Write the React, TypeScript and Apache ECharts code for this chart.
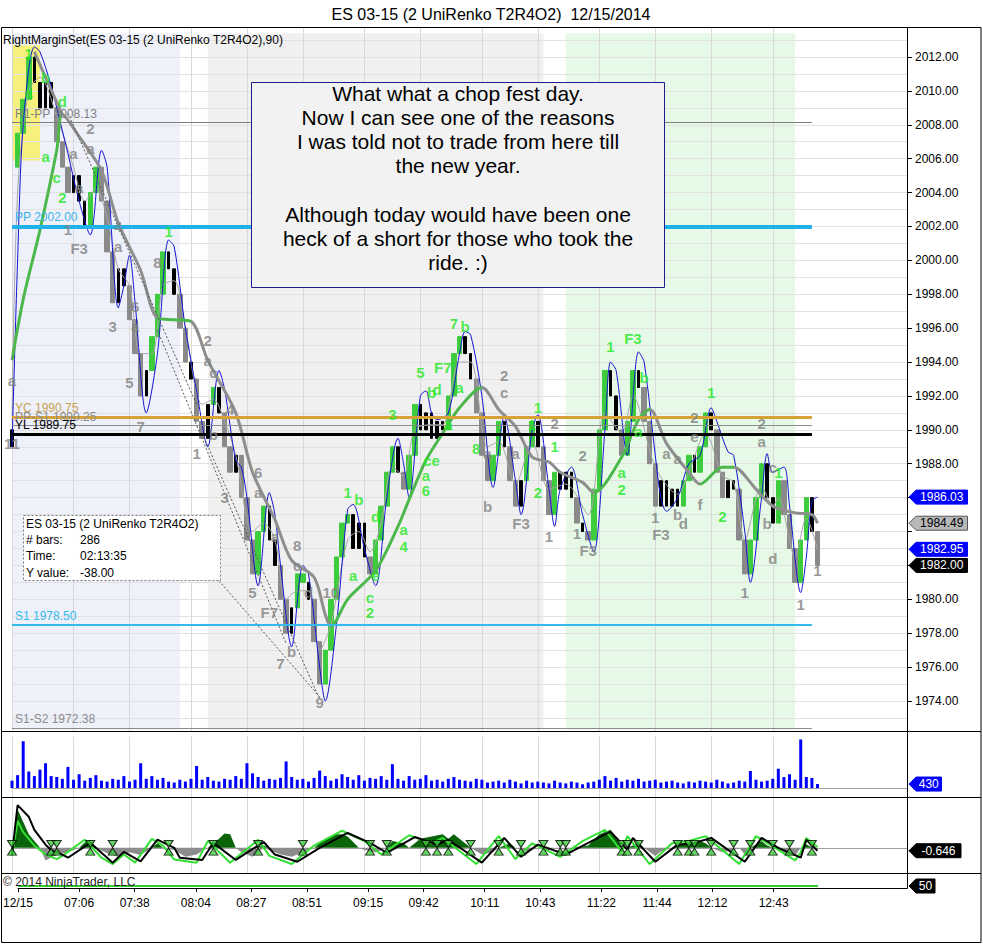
import React, { useEffect, useRef } from "react";
import * as echarts from "echarts";

const FONT = "'Liberation Sans', Arial, Helvetica, sans-serif";

// ---------- texts ----------
const TITLE = "ES 03-15 (2 UniRenko T2R4O2)  12/15/2014";
const INDICATOR_LABEL = "RightMarginSet(ES 03-15 (2 UniRenko T2R4O2),90)";
const NOTE_LINES = [
  "What what a chop fest day.",
  "Now I can see one of the reasons",
  "I was told not to trade from here till",
  "the new year.",
  "",
  "Although today would have been one",
  "heck of a short for those who took the",
  "ride. :)",
];
const INFO_KEYS = ["ES 03-15 (2 UniRenko T2R4O2)", "# bars:", "Time:", "Y value:"];
const INFO_VALUES = ["", "286", "02:13:35", "-38.00"];
const COPYRIGHT = "\u00a9 2014 NinjaTrader, LLC";

// ---------- x axis ----------
const SLOT_COUNT = 161;
const timeSlots = [0, 11, 21, 32, 42, 52, 63, 73, 84, 94, 105, 115, 125, 136];
const timeLabels = ["12/15", "07:06", "07:38", "08:04", "08:27", "08:51", "09:15", "09:42", "10:11", "10:43", "11:22", "11:44", "12:12", "12:43"];

// ---------- price bars ----------
const firstOpen = 1989.0;
const gapIndex = 1;
const gapOpen = 2005.5;
const closes = [
  1990, 2007.5, 2009.5, 2012, 2010.5, 2009, 2010.5, 2009, 2007, 2005.5,
  2004, 2005, 2003.5, 2002, 2004, 2005.5, 2003.5, 2000.5, 1997.5, 1999.5,
  1998.5, 1996.5, 1994.5, 1992, 1993.5, 1995.5, 1998, 2000.5, 1999.5, 1998,
  1996, 1994, 1993, 1990.5, 1989.5, 1991.5, 1992.5, 1991, 1989, 1987.5,
  1988.5, 1986, 1983.5, 1981.5, 1984, 1985.5, 1983.5, 1982, 1980, 1978,
  1979.5, 1981.5, 1981, 1980, 1977.5, 1975, 1977, 1980, 1982.5, 1984.5,
  1985, 1983, 1984.5, 1982.5, 1981.5, 1983.5, 1985.5, 1987.5, 1989, 1987.5,
  1986.5, 1988.5, 1991.5, 1990, 1991, 1989.5, 1990.5, 1990, 1992, 1994.5,
  1995.5, 1994.5, 1993, 1991, 1988.5, 1987, 1988.5, 1990.5, 1989, 1987,
  1985.5, 1987, 1989, 1990.5, 1989, 1987, 1985, 1987.5, 1986.5, 1987.5,
  1986, 1984.5, 1984, 1983.5, 1986.5, 1990, 1993.5, 1992, 1990, 1988.5,
  1990.5, 1993.5, 1992.5, 1990.5, 1988, 1985.5, 1987, 1985.5, 1986.5, 1985.5,
  1987, 1988.5, 1987.5, 1989, 1991, 1990, 1987.5, 1986, 1987, 1986.5,
  1983.5, 1981.5, 1983.5, 1986, 1988, 1986, 1984.5, 1987, 1985, 1983,
  1981, 1983.5, 1986, 1984, 1982,
];
// g = green leg, s = gray leg, k = black bar
const tones = [
  "k", "ggg", "kkkk", "sss", "kkk", "gg", "sss", "kk", "sss", "k", "ggg", "kk", "ss", "k", "ss", "k", "g", "k",
  "ss", "k", "sss", "gg", "kk", "ss", "k", "gg", "k", "ss", "ggggg", "kkk", "s", "gggg", "k", "s", "gg", "kkkkk",
  "ggg", "kk", "sss", "gg", "k", "ss", "k", "gg", "k", "ss", "g", "kkk", "s", "k", "s", "ggg", "kk", "s", "gg",
  "k", "sss", "kkkk", "gg", "k", "gg", "k", "ss", "kk", "ss", "ggg", "kk", "g", "sss", "gg", "k", "s",
].join("");

// ---------- overlays ----------
const bandPoints = [
  [0, 1989], [1, 2000], [2, 2008], [4, 2012.6], [5, 2012.3], [7, 2010.3], [8, 2009], [10, 2006.3], [12, 2003.5], [14, 2001.5],
  [16, 2006.5], [17, 2005.5], [19, 1997.2], [20, 1998.5], [21, 2000.3], [22, 1997.5], [24, 1991.0], [26, 1994.5], [28, 2001.2], [29, 2000.8],
  [31, 1996.0], [33, 1992.3], [35, 1989.0], [37, 1993.5], [38, 1992.4], [40, 1988.2], [41, 1987.8], [42, 1986.0], [44, 1980.8], [46, 1986.3],
  [47, 1985.0], [48, 1982.0], [50, 1977.2], [52, 1982.0], [53, 1981.5], [55, 1976.0], [56, 1974.0], [58, 1978.5], [60, 1985.3], [61, 1985.6],
  [63, 1983.0], [65, 1980.8], [67, 1986.0], [69, 1989.5], [70, 1988.0], [71, 1986.0], [73, 1992.0], [74, 1992.3], [75, 1991.0], [76, 1990.6],
  [78, 1991.0], [80, 1994.5], [81, 1995.8], [82, 1995.6], [84, 1992.0], [86, 1986.6], [88, 1990.8], [90, 1987.0], [91, 1985.0], [93, 1990.0],
  [94, 1990.9], [96, 1986.5], [97, 1984.3], [98, 1986.5], [100, 1987.8], [102, 1985.0], [104, 1982.8], [106, 1990.0], [107, 1994.0], [108, 1993.5],
  [110, 1988.5], [112, 1994.6], [113, 1994.0], [115, 1988.5], [116, 1986.0], [117, 1985.2], [119, 1986.0], [121, 1988.0], [123, 1988.5], [125, 1991.3],
  [126, 1990.5], [128, 1988.7], [129, 1988.5], [131, 1984.0], [132, 1981.0], [134, 1986.0], [135, 1988.6], [136, 1987.5], [138, 1987.8], [139, 1985.5],
  [141, 1980.4], [142, 1982.5], [143, 1985.8], [144, 1986.03],
];
const emaPoints = [
  [0, 1990.5], [1, 2004], [3, 2010], [5, 2010.8], [8, 2008.5], [11, 2005.5], [13, 2003.5], [15, 2004.2], [17, 2002.5], [19, 1999.5],
  [21, 1998.5], [23, 1994.5], [25, 1994.5], [27, 1998.5], [29, 1998.8], [31, 1996.0], [34, 1991.5], [36, 1991.8], [38, 1990.5], [40, 1988.5],
  [43, 1984.0], [45, 1984.5], [47, 1983.5], [49, 1980.0], [51, 1980.5], [53, 1980.5], [55, 1977.0], [57, 1978.5], [60, 1983.5], [62, 1984.0],
  [64, 1982.8], [66, 1984.5], [68, 1987.8], [70, 1987.3], [72, 1990.0], [75, 1990.3], [77, 1990.3], [80, 1994.0], [82, 1994.0], [85, 1989.0],
  [87, 1989.3], [90, 1986.8], [93, 1989.3], [96, 1986.5], [99, 1986.8], [103, 1985.0], [106, 1991.0], [109, 1989.8], [111, 1992.0], [115, 1987.8],
  [119, 1986.2], [121, 1987.5], [124, 1989.8], [127, 1987.3], [129, 1986.9], [131, 1983.5], [134, 1986.7], [136, 1985.5], [137, 1986.0], [140, 1982.5],
  [142, 1984.8], [144, 1982.95],
];
const maPoints = [
  [0, 1994.1], [2, 1997.7], [5, 2001.8], [8, 2006.5], [9, 2008.6], [12, 2007.3], [16, 2005.3], [19, 2002.2], [23, 1999.4], [26, 1996.6],
  [29, 1996.5], [32, 1996.4], [35, 1994.1], [40, 1991.0], [43, 1987.5], [47, 1984.7], [50, 1982.3], [54, 1981.3], [56, 1979.1], [57, 1978.4],
  [60, 1980.0], [65, 1981.7], [69, 1984.3], [71, 1985.9], [74, 1988.2], [77, 1989.8], [80, 1991.3], [84, 1992.5], [87, 1991.2], [90, 1990.2],
  [93, 1988.4], [96, 1988.1], [98, 1987.5], [102, 1986.9], [104, 1986.3], [109, 1988.4], [112, 1990.6], [114, 1991.2], [117, 1989.2], [121, 1987.5],
  [123, 1986.8], [127, 1987.8], [129, 1987.8], [133, 1986.5], [136, 1985.5], [140, 1985.1], [143, 1985.0], [144, 1984.49],
];
const maRisingRanges = [[0, 9], [26, 32], [57, 84], [104, 114], [123, 129]];
const maHeadPoints = [[4, 2012.3], [6, 2010.8], [9, 2008.6]];
const trendLines = [
  [[10, 2008.7], [33, 1991.5]],
  [[26, 1995.9], [49, 1977.4]],
  [[34, 1989.8], [55, 1974.1]],
  [[37, 1981.1], [55, 1974.25]],
];

const pivotLevels = [
  { name: "R1-PP", value: 2008.13, color: "#808080", width: 1, labelColor: "#808080" },
  { name: "PP", value: 2002.0, color: "#1fb2ea", width: 4, labelColor: "#3cb4e8" },
  { name: "YC", value: 1990.75, color: "#d6a238", width: 3, labelColor: "#c9a24e" },
  { name: "PP-S1", value: 1990.25, color: "#8c8c8c", width: 1, labelColor: "#8c8c8c" },
  { name: "YL", value: 1989.75, color: "#000000", width: 3, labelColor: "#000000" },
  { name: "S1", value: 1978.5, color: "#33bbee", width: 2, labelColor: "#33bbee" },
  { name: "S1-S2", value: 1972.38, color: "#8c8c8c", width: 1, labelColor: "#8c8c8c" },
];
const pivotFrom = 0;
const pivotTo = 143;

const sessionBands = [
  { from: 0, to: 30, color: "#eef0fa" },
  { from: 35, to: 95, color: "#f0f0f0" },
  { from: 99, to: 140, color: "#e6f9e6" },
];
const bandTop = 2013.4;
const bandBottom = 1972.3;
const highlight = { from: 0, to: 5, top: 2012.7, bottom: 2005.9, color: "#f7f07c" };

const waveLabels: [string, number, number, string][] = [
  ["1", 3, 2012.2, "g"], ["b", 6, 2010.8, "g"], ["a", 3, 2009.9, "g"], ["d", 9, 2009.4, "g"], ["a", 6, 2006.1, "g"],
  ["c", 8, 2004.9, "g"], ["2", 9, 2003.7, "g"], ["2", 14, 2007.8, "s"], ["a", 14, 2006.6, "s"], ["a", 11, 2006.3, "s"],
  ["a", 12, 2004.3, "s"], ["1", 10, 2001.8, "s"], ["F3", 12, 2000.7, "s"], ["4", 19, 2002.0, "s"], ["a", 19, 2000.8, "s"],
  ["8", 26, 1999.9, "s"], ["1", 28, 2001.7, "g"], ["3", 18, 1996.1, "s"], ["6", 22, 1997.3, "s"], ["a", 22, 1996.1, "s"],
  ["5", 21, 1992.8, "s"], ["7", 23, 1990.2, "s"], ["a", 0, 1992.9, "s"], ["11", 0, 1989.2, "s"], ["2", 35, 1995.3, "s"],
  ["a", 35, 1994.1, "s"], ["c", 36, 1993.4, "s"], ["1", 33, 1988.6, "s"], ["b", 36, 1989.7, "s"], ["4", 39, 1991.2, "s"],
  ["3", 38, 1986.0, "s"], ["6", 44, 1987.5, "s"], ["a", 44, 1986.3, "s"], ["a", 47, 1983.7, "s"], ["5", 43, 1980.4, "s"],
  ["F7", 46, 1979.2, "s"], ["7", 48, 1976.2, "s"], ["b", 50, 1976.9, "s"], ["8", 51, 1983.2, "s"], ["c", 51, 1982.0, "s"],
  ["d", 53, 1980.4, "s"], ["10", 57, 1980.4, "s"], ["9", 55, 1973.9, "s"], ["1", 60, 1986.3, "g"], ["b", 62, 1985.9, "g"],
  ["a", 61, 1981.4, "g"], ["d", 65, 1984.9, "g"], ["e", 65, 1981.4, "g"], ["c", 64, 1980.1, "g"], ["2", 64, 1979.2, "g"],
  ["3", 68, 1990.9, "g"], ["a", 70, 1984.1, "g"], ["4", 70, 1983.1, "g"], ["5", 73, 1993.4, "g"], ["b", 75, 1992.2, "g"],
  ["d", 76, 1992.4, "g"], ["F7", 77, 1993.7, "g"], ["7", 79, 1996.3, "g"], ["b", 81, 1996.1, "g"], ["a", 80, 1992.5, "g"],
  ["a", 78, 1990.3, "g"], ["ce", 75, 1988.2, "g"], ["a", 74, 1987.3, "g"], ["6", 74, 1986.4, "g"], ["8", 83, 1988.9, "g"],
  ["2", 88, 1993.2, "s"], ["c", 88, 1992.2, "s"], ["a", 85, 1988.6, "s"], ["b", 85, 1985.5, "s"], ["a", 90, 1988.6, "s"],
  ["F3", 91, 1984.5, "s"], ["1", 93, 1990.3, "g"], ["1", 94, 1991.3, "g"], ["1", 97, 1989.0, "g"], ["2", 94, 1986.3, "g"],
  ["1", 96, 1983.7, "s"], ["2", 97, 1990.4, "s"], ["2", 102, 1988.5, "s"], ["1", 101, 1983.9, "s"], ["F3", 103, 1982.9, "s"],
  ["1", 107, 1994.9, "g"], ["F3", 111, 1995.4, "g"], ["b", 113, 1993.1, "g"], ["a", 112, 1989.9, "g"], ["a", 109, 1987.5, "g"],
  ["2", 109, 1986.5, "g"], ["a", 117, 1988.6, "s"], ["a", 119, 1988.3, "s"], ["1", 115, 1984.8, "s"], ["F3", 116, 1983.8, "s"],
  ["b", 119, 1985.0, "s"], ["d", 120, 1984.5, "s"], ["f", 123, 1985.6, "s"], ["e", 122, 1989.6, "s"], ["2", 122, 1990.7, "s"],
  ["1", 125, 1992.2, "g"], ["2", 127, 1984.9, "g"], ["2", 134, 1990.4, "s"], ["a", 134, 1989.3, "s"], ["c", 136, 1987.8, "s"],
  ["b", 135, 1984.5, "s"], ["d", 136, 1982.4, "s"], ["1", 131, 1980.4, "s"], ["1", 137, 1987.5, "g"], ["1", 141, 1979.7, "s"],
  ["1", 144, 1981.7, "s"],
];

// ---------- volume ----------
const volumes = [
  800, 1400, 5100, 1800, 1300, 2000, 2700, 1300, 1200, 1000,
  2300, 900, 1500, 800, 1100, 1400, 800, 700, 1000, 900,
  1300, 700, 900, 2700, 1000, 1300, 900, 1100, 700, 600,
  900, 700, 1000, 2400, 900, 1200, 800, 700, 1000, 900,
  1300, 1000, 2700, 1600, 1200, 800, 1000, 900, 1100, 2900,
  1200, 900, 1000, 700, 1100, 1900, 1300, 800, 1000, 1500,
  1200, 900, 1400, 800, 1100, 1000, 1300, 900, 2600, 1000,
  800, 1300, 900, 1000, 1400, 800, 900, 700, 1000, 1200,
  900, 800, 700, 1000, 900, 600, 700, 800, 600, 900,
  700, 500, 800, 600, 700, 600, 500, 800, 600, 500,
  700, 600, 400, 600, 700, 900, 1300, 800, 1100, 700,
  900, 800, 1000, 700, 800, 900, 600, 700, 800, 600,
  500, 700, 600, 800, 700, 600, 900, 700, 500, 600,
  800, 700, 1850, 900, 700, 800, 1000, 2100, 1200, 1500,
  900, 5300, 1200, 1100, 430,
];

// ---------- oscillator ----------
const oscHist = [
  [0, 0], [1, 8.5], [3, 3], [5, 0], [6, -2.8], [8, -1.5], [10, -1], [12, 0], [13, 1.2], [14, 1.8], [15, 0], [17, -1.2], [19, -2],
  [21, -1], [23, -1.6], [25, 0], [26, 1], [27, 0], [29, -0.5], [31, -2], [33, -1.5], [35, 0], [37, 2], [38, 3.2], [39, 3], [40, 0],
  [41, -1], [43, -2], [45, 0.5], [46, -0.5], [48, -1.5], [50, -2], [52, -1], [54, 0], [56, 2], [58, 3], [59, 3], [60, 2.5], [62, 0],
  [63, -0.5], [65, -1], [67, 0], [68, 1.5], [70, 1], [71, 0], [73, 2], [75, 2.5], [77, 3], [78, 2], [79, 3], [81, 1], [82, 0],
  [84, -1.5], [86, -1], [87, 0], [89, 1], [90, 0], [92, -0.8], [94, 0], [96, -0.6], [97, 0], [99, -0.5], [100, 0], [103, 0.5],
  [105, 3], [107, 4], [108, 2], [109, 0], [110, -0.5], [112, 1], [113, 0], [115, -1.8], [116, -0.8], [118, 0], [119, 0.8], [121, 1],
  [123, 1.5], [124, 1], [125, 0], [127, -1], [129, -0.5], [130, 0], [131, -1.5], [132, 0], [134, 1.5], [135, 0.5], [136, 0],
  [138, -1.2], [140, -1.8], [141, 0], [142, 0.8], [143, 0], [144, -0.3],
];
const oscBlack = [
  [0, -1.5], [1, 9.5], [3, 6.9], [4, 4], [6, 0.7], [7, -0.5], [9, -1.5], [10, -2.2], [14, 1.1], [18, -3.3], [20, -0.9], [23, -3],
  [26, 1.8], [29, 0], [30, -2.2], [34, -2.7], [36, 1.1], [40, -2.7], [45, 1.3], [47, -1.5], [51, -3.1], [55, 0], [60, 3.3], [64, 1.1],
  [67, -1.1], [72, 2.4], [76, 0.7], [78, 1.8], [84, -3.3], [88, 2.2], [91, -2], [94, 0.7], [99, -1.5], [103, 1.1], [107, 3.6],
  [110, -0.4], [111, 2.2], [115, -3.1], [119, 0.7], [122, 1.1], [125, 2.2], [131, -3.1], [134, 2.2], [137, 0], [141, -2.2],
  [142, 1.8], [144, -0.646],
];
const oscGreen = [
  [0, -1.8], [1, 6], [2, 3.5], [4, 0.5], [6, -1.5], [8, -2.5], [9, -1.8], [13, 1.8], [16, -2.2], [18, -3.6], [20, -1.5], [22, -3.3],
  [25, 2.0], [27, 0.5], [29, -2.6], [33, -3.3], [35, 1.5], [39, -3.3], [44, 1.8], [46, -1.8], [50, -3.6], [54, 0.5], [59, 3.8],
  [63, 1.5], [66, -1.5], [71, 2.8], [75, 1.0], [77, 2.2], [83, -3.6], [87, 2.6], [90, -2.5], [93, 1.0], [98, -2.0], [102, 1.5],
  [106, 4.0], [109, -0.8], [110, 2.6], [114, -3.6], [118, 1.0], [121, 1.5], [124, 2.6], [130, -3.6], [133, 2.6], [136, 0.3],
  [140, -2.8], [141, -1], [142, 2.2], [144, 0.2],
];
const crossIdx = [0, 7, 8, 14, 18, 28, 36, 44, 52, 64, 67, 74, 76, 78, 82, 87, 91, 95, 98, 99, 109, 110, 112, 119, 121, 122, 125, 129, 132, 136, 139, 143];
const markerOffset = 0.85;
const levelValue = 50;

// ---------- helpers ----------
const toneColors: Record<string, string> = { g: "#3dcc3d", s: "#8a8a8a", k: "#000000" };
const labelColors: Record<string, string> = { g: "#22e822", s: "#808080" };
const MA_GREEN = "#4cb84c";
const MA_GRAY = "#8e8e8e";

const slotNames = Array.from({ length: SLOT_COUNT }, (_, k) => String(k));
const labelAt = new Map<number, string>(timeSlots.map((s, j) => [s, timeLabels[j]]));
const isLabelSlot = (idx: number) => labelAt.has(idx);

const lastOf = (pts: number[][]) => pts[pts.length - 1][1];
const mainTagValues = [lastOf(bandPoints), lastOf(maPoints), lastOf(emaPoints), closes[closes.length - 1]];

const opens = closes.map((_, i) => (i === 0 ? firstOpen : i === gapIndex ? gapOpen : closes[i - 1]));
function candleItem(i: number, visible: boolean) {
  const o = opens[i];
  const c = closes[i];
  const col = toneColors[tones[i]];
  return {
    value: [o, c, Math.min(o, c), Math.max(o, c)],
    itemStyle: visible
      ? { color: col, color0: col, borderColor: col, borderColor0: col, borderWidth: 1 }
      : { opacity: 0 },
  };
}

function buildOption(): any {
  const gridDefs = [
    { left: 12, right: 76, top: 23.106, height: 711.79 },
    { left: 12, right: 76, top: 733, height: 64 },
    { left: 12, right: 76, top: 797, height: 76 },
    { left: 12, right: 76, top: 873, height: 15 },
  ];

  const xAxes = gridDefs.map((_, g) => {
    const base: any = {
      type: "category",
      gridIndex: g,
      data: slotNames,
      boundaryGap: false,
      z: 1.5,
    };
    if (g < 3) {
      return {
        ...base,
        axisLabel: { show: false },
        axisTick: { show: false },
        axisLine: { show: g !== 0, onZero: true, lineStyle: { color: "#a0a0a0", width: 1 } },
        splitLine: { show: true, interval: (idx: number) => isLabelSlot(idx), lineStyle: { color: "#d9d9d9", width: 1 } },
      };
    }
    return {
      ...base,
      axisLabel: {
        show: true,
        interval: (idx: number) => isLabelSlot(idx),
        formatter: (_v: string, idx: number) => labelAt.get(idx) ?? "",
        color: "#000",
        fontSize: 12,
        fontFamily: FONT,
        margin: 9,
      },
      axisTick: { show: true, interval: (idx: number) => isLabelSlot(idx), length: 4, lineStyle: { color: "#000" } },
      axisLine: { show: true, onZero: false, lineStyle: { color: "#000" } },
      splitLine: { show: false },
    };
  });

  const yAxes = [
    {
      type: "value",
      gridIndex: 0,
      position: "right",
      min: 1972,
      max: 2014,
      interval: 2,
      z: 1.5,
      axisLine: { show: true, lineStyle: { color: "#000" } },
      axisTick: { show: true, length: 5, lineStyle: { color: "#000" } },
      axisLabel: {
        color: "#000",
        fontSize: 12,
        fontFamily: FONT,
        margin: 8,
        showMinLabel: false,
        showMaxLabel: false,
        // labels hidden behind the value tags, as in the reference
        formatter: (v: number) => (mainTagValues.some((t) => Math.abs(t - v) < 1) ? "" : v.toFixed(2)),
      },
      splitLine: { show: true, lineStyle: { color: "#e1e1e1" } },
      minorTick: { show: false, splitNumber: 2 },
      minorSplitLine: { show: true, lineStyle: { color: "#e1e1e1" } },
    },
    { type: "value", gridIndex: 1, min: -982, max: 6000, show: false },
    { type: "value", gridIndex: 2, min: -5.6, max: 11.3, show: false },
    { type: "value", gridIndex: 3, min: 48, max: 63, show: false },
  ];

  const markAreaData: any[] = sessionBands.map((b) => [
    { xAxis: b.from, yAxis: bandTop, itemStyle: { color: b.color } },
    { xAxis: b.to, yAxis: bandBottom },
  ]);
  markAreaData.push([
    { xAxis: highlight.from, yAxis: highlight.top, itemStyle: { color: highlight.color } },
    { xAxis: highlight.to, yAxis: highlight.bottom },
  ]);

  const markLineData = pivotLevels.map((p) => [
    {
      coord: [pivotFrom, p.value],
      lineStyle: { color: p.color, width: p.width, type: "solid" },
      label: {
        show: true,
        position: "insideStartTop",
        formatter: `${p.name} ${p.value.toFixed(2)}`,
        color: p.labelColor,
        fontSize: 12,
        fontFamily: FONT,
        distance: 3,
      },
    },
    { coord: [pivotTo, p.value], lineStyle: { color: p.color, width: p.width, type: "solid" } },
  ]);

  const maPieces: any[] = [];
  let prevEnd = -1;
  maRisingRanges.forEach(([a, b]) => {
    if (a > prevEnd) maPieces.push({ gt: prevEnd, lt: a, color: MA_GRAY });
    maPieces.push({ gte: a, lte: b, color: MA_GREEN });
    prevEnd = b;
  });
  maPieces.push({ gt: prevEnd, lte: SLOT_COUNT, color: MA_GRAY });

  const trendData: any[] = [];
  trendLines.forEach((seg, k) => {
    if (k > 0) trendData.push("-");
    seg.forEach((pt) => trendData.push(pt));
  });

  const series: any[] = [
    {
      name: "bands",
      type: "line",
      xAxisIndex: 0,
      yAxisIndex: 0,
      data: [],
      silent: true,
      markArea: { silent: true, data: markAreaData },
    },
    {
      name: "legs",
      type: "candlestick",
      xAxisIndex: 0,
      yAxisIndex: 0,
      barWidth: 5,
      clip: false,
      data: closes.map((_, i) => candleItem(i, tones[i] !== "k")),
    },
    {
      name: "bars",
      type: "candlestick",
      xAxisIndex: 0,
      yAxisIndex: 0,
      barWidth: 3,
      clip: false,
      data: closes.map((_, i) => candleItem(i, tones[i] === "k")),
    },
    {
      name: "ema",
      type: "line",
      xAxisIndex: 0,
      yAxisIndex: 0,
      data: emaPoints,
      smooth: 0.3,
      showSymbol: false,
      lineStyle: { color: "#a6a6a6", width: 1 },
      silent: true,
    },
    {
      name: "band",
      type: "line",
      xAxisIndex: 0,
      yAxisIndex: 0,
      data: bandPoints,
      smooth: 0.3,
      showSymbol: false,
      lineStyle: { color: "#1414d2", width: 1 },
      silent: true,
    },
    {
      name: "maHead",
      type: "line",
      xAxisIndex: 0,
      yAxisIndex: 0,
      data: maHeadPoints,
      smooth: 0.3,
      showSymbol: false,
      lineStyle: { color: MA_GRAY, width: 3 },
      silent: true,
    },
    {
      name: "ma",
      type: "line",
      xAxisIndex: 0,
      yAxisIndex: 0,
      data: maPoints,
      smooth: 0.3,
      showSymbol: false,
      lineStyle: { width: 3 },
      silent: true,
      markLine: { silent: true, symbol: ["none", "none"], data: markLineData },
    },
    {
      name: "trend",
      type: "line",
      xAxisIndex: 0,
      yAxisIndex: 0,
      data: trendData,
      connectNulls: false,
      showSymbol: false,
      lineStyle: { color: "#555", width: 1, type: [2, 2] },
      silent: true,
    },
    {
      name: "waves",
      type: "scatter",
      xAxisIndex: 0,
      yAxisIndex: 0,
      symbolSize: 1,
      itemStyle: { color: "transparent" },
      silent: true,
      z: 6,
      label: {
        show: true,
        position: "inside",
        formatter: "{b}",
        fontSize: 15,
        fontWeight: "bold",
        fontFamily: FONT,
      },
      data: waveLabels.map(([t, i, p, tone]) => ({ name: t, value: [i, p], label: { color: labelColors[tone] } })),
    },
    {
      name: "volume",
      type: "bar",
      xAxisIndex: 1,
      yAxisIndex: 1,
      barWidth: 3,
      itemStyle: { color: "#0000ff" },
      data: volumes,
      silent: true,
    },
    {
      name: "histUp",
      type: "line",
      xAxisIndex: 2,
      yAxisIndex: 2,
      data: oscHist.map(([i, v]) => [i, Math.max(v, 0)]),
      showSymbol: false,
      lineStyle: { width: 0 },
      areaStyle: { color: "#0a640a", opacity: 1 },
      silent: true,
    },
    {
      name: "histDown",
      type: "line",
      xAxisIndex: 2,
      yAxisIndex: 2,
      data: oscHist.map(([i, v]) => [i, Math.min(v, 0)]),
      showSymbol: false,
      lineStyle: { width: 0 },
      areaStyle: { color: "#8c8c8c", opacity: 1 },
      silent: true,
    },
    {
      name: "oscGreen",
      type: "line",
      xAxisIndex: 2,
      yAxisIndex: 2,
      data: oscGreen,
      showSymbol: false,
      lineStyle: { color: "#33e033", width: 2 },
      silent: true,
    },
    {
      name: "oscBlack",
      type: "line",
      xAxisIndex: 2,
      yAxisIndex: 2,
      data: oscBlack,
      showSymbol: false,
      lineStyle: { color: "#000", width: 2 },
      silent: true,
    },
    {
      name: "triDown",
      type: "scatter",
      xAxisIndex: 2,
      yAxisIndex: 2,
      symbol: "triangle",
      symbolRotate: 180,
      symbolSize: [9, 7],
      itemStyle: { color: "#3ccc3c", borderColor: "#000", borderWidth: 1 },
      data: crossIdx.map((i) => [i, markerOffset]),
      silent: true,
      z: 4,
    },
    {
      name: "triUp",
      type: "scatter",
      xAxisIndex: 2,
      yAxisIndex: 2,
      symbol: "triangle",
      symbolSize: [9, 7],
      itemStyle: { color: "#3ccc3c", borderColor: "#000", borderWidth: 1 },
      data: crossIdx.map((i) => [i, -markerOffset]),
      silent: true,
      z: 4,
    },
    {
      name: "level",
      type: "line",
      xAxisIndex: 3,
      yAxisIndex: 3,
      data: [[0, levelValue], [closes.length - 1, levelValue]],
      showSymbol: false,
      lineStyle: { color: "#33cc33", width: 2 },
      silent: true,
    },
  ];

  return {
    animation: false,
    backgroundColor: "#ffffff",
    textStyle: { fontFamily: FONT },
    grid: gridDefs,
    xAxis: xAxes,
    yAxis: yAxes,
    visualMap: [
      {
        type: "piecewise",
        show: false,
        seriesIndex: 6,
        dimension: 0,
        pieces: maPieces,
      },
    ],
    series,
  };
}

function baseGraphics(): any[] {
  const g: any[] = [];
  // covers for grid overflow
  g.push({ type: "rect", z: 100, shape: { x: 0, y: 21.5, width: 983, height: 5.6 }, style: { fill: "#fff" } });
  g.push({ type: "rect", z: 100, shape: { x: 2, y: 732, width: 978, height: 4.6 }, style: { fill: "#fff" } });
  // frame
  g.push({ type: "rect", z: 101, shape: { x: 1.5, y: 27.5, width: 979.5, height: 915 }, style: { fill: "none", stroke: "#000", lineWidth: 1 } });
  [731.5, 797.5, 873.5].forEach((y) =>
    g.push({ type: "line", z: 101, shape: { x1: 1.5, y1: y, x2: 981, y2: y }, style: { stroke: "#000", lineWidth: 1 } })
  );
  g.push({ type: "line", z: 101, shape: { x1: 907.5, y1: 27.5, x2: 907.5, y2: 888.5 }, style: { stroke: "#000", lineWidth: 1 } });
  // title
  g.push({ type: "text", z: 102, x: 491, y: 14, style: { text: TITLE, fill: "#000", font: `16px ${FONT}`, align: "center", verticalAlign: "middle" } });
  // indicator label
  g.push({ type: "text", z: 102, x: 3, y: 40, style: { text: INDICATOR_LABEL, fill: "#000", font: `12px ${FONT}`, align: "left", verticalAlign: "middle" } });
  // note box
  g.push({ type: "rect", z: 50, shape: { x: 251.5, y: 82.5, width: 413, height: 205 }, style: { fill: "#f2f2f2", stroke: "#1e1e8e", lineWidth: 1 } });
  NOTE_LINES.forEach((line, k) => {
    if (!line) return;
    g.push({ type: "text", z: 51, x: 458, y: 93 + k * 24.2, style: { text: line, fill: "#000", font: `21px ${FONT}`, align: "center", verticalAlign: "middle" } });
  });
  // info box
  g.push({ type: "rect", z: 50, shape: { x: 23.5, y: 515.5, width: 197, height: 65 }, style: { fill: "#fff", stroke: "#777", lineWidth: 1, lineDash: [2, 2] } });
  INFO_KEYS.forEach((k, j) => {
    const y = 524 + j * 16.2;
    g.push({ type: "text", z: 51, x: 26, y, style: { text: k, fill: "#000", font: `12px ${FONT}`, align: "left", verticalAlign: "middle" } });
    if (INFO_VALUES[j]) {
      g.push({ type: "text", z: 51, x: 80, y, style: { text: INFO_VALUES[j], fill: "#000", font: `12px ${FONT}`, align: "left", verticalAlign: "middle" } });
    }
  });
  // copyright
  g.push({ type: "text", z: 102, x: 3, y: 882, style: { text: COPYRIGHT, fill: "#222", font: `12px ${FONT}`, align: "left", verticalAlign: "middle" } });
  return g;
}

function tagGraphics(chart: any): any[] {
  const specs = [
    { axis: 0, value: mainTagValues[0], text: mainTagValues[0].toFixed(2), bg: "#0000ff", fg: "#fff", border: "#0000ff" },
    { axis: 0, value: mainTagValues[1], text: mainTagValues[1].toFixed(2), bg: "#b8b8b8", fg: "#000", border: "#555" },
    { axis: 0, value: mainTagValues[2], text: mainTagValues[2].toFixed(2), bg: "#0000ff", fg: "#fff", border: "#0000ff" },
    { axis: 0, value: mainTagValues[3], text: mainTagValues[3].toFixed(2), bg: "#000", fg: "#fff", border: "#000" },
    { axis: 1, value: volumes[volumes.length - 1], text: String(volumes[volumes.length - 1]), bg: "#0000ff", fg: "#fff", border: "#0000ff" },
    { axis: 2, value: lastOf(oscBlack), text: lastOf(oscBlack).toFixed(3), bg: "#000", fg: "#fff", border: "#000" },
    { axis: 3, value: levelValue, text: String(levelValue), bg: "#000", fg: "#fff", border: "#000" },
  ];
  const out: any[] = [];
  specs.forEach((s) => {
    const y = chart.convertToPixel({ yAxisIndex: s.axis }, s.value) as number;
    const w = s.text.length * 6.5 + 6;
    const x0 = 909;
    const x1 = 916;
    out.push({
      type: "polygon",
      z: 120,
      shape: { points: [[x0, y], [x1, y - 7], [x1 + w, y - 7], [x1 + w, y + 7], [x1, y + 7]] },
      style: { fill: s.bg, stroke: s.border, lineWidth: 1 },
    });
    out.push({
      type: "text",
      z: 121,
      x: x1 + w / 2,
      y,
      style: { text: s.text, fill: s.fg, font: `12px ${FONT}`, align: "center", verticalAlign: "middle" },
    });
  });
  return out;
}

export default function App() {
  const ref = useRef<HTMLDivElement>(null);
  useEffect(() => {
    if (!ref.current) return;
    document.body.style.margin = "0";
    const chart = echarts.init(ref.current, null, { renderer: "svg" });
    chart.setOption(buildOption());
    chart.setOption({ graphic: { elements: [...baseGraphics(), ...tagGraphics(chart)] } });
    return () => {
      chart.dispose();
    };
  }, []);
  return <div ref={ref} style={{ position: "absolute", left: 0, top: 0, width: 983, height: 944 }} />;
}
